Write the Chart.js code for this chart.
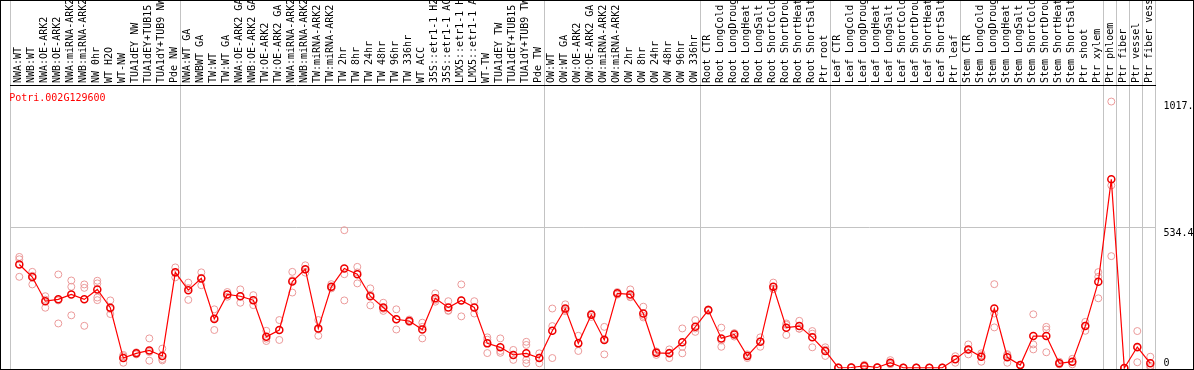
<!DOCTYPE html>
<html>
<head>
<meta charset="utf-8">
<script src="https://cdn.jsdelivr.net/npm/chart.js@4.4.1/dist/chart.umd.min.js"></script>
<style>
  html, body { margin: 0; padding: 0; background: #fff; }
  #frame { width: 1194px; height: 370px; border: 1px solid #000; box-sizing: border-box; }
  canvas { display: block; }
</style>
</head>
<body>
<div id="frame"><canvas id="chart" width="1192" height="368"></canvas></div>
<script>
// gene shown in the plot
const geneName = "Potri.002G129600";

// sample names, in plot order
const categories = [
  "NWA:WT", "NWB:WT", "NWA:OE-ARK2", "NWB:OE-ARK2", "NWA:miRNA-ARK2", "NWB:miRNA-ARK2",
  "NW 0hr", "WT H2O", "WT-NW", "TUA1dEY NW", "TUA1dEY+TUB15 NW", "TUA1dY+TUB9 NW", "Pde NW",
  "NWA:WT GA", "NWBWT GA", "TW:WT", "TW:WT GA", "NWA:OE-ARK2 GA", "NWB:OE-ARK2 GA",
  "TW:OE-ARK2", "TW:OE-ARK2 GA", "NWA:miRNA-ARK2 GA", "NWB:miRNA-ARK2 GA", "TW:miRNA-ARK2",
  "TW:miRNA-ARK2", "TW 2hr", "TW 8hr", "TW 24hr", "TW 48hr", "TW 96hr", "TW 336hr", "WT ACC",
  "35S::etr1-1 H2O", "35S::etr1-1 ACC", "LMX5::etr1-1 H2O", "LMX5::etr1-1 ACC", "WT-TW",
  "TUA1dEY TW", "TUA1dEY+TUB15 TW", "TUA1dY+TUB9 TW", "Pde TW",
  "OW:WT", "OW:WT GA", "OW:OE-ARK2", "OW:OE-ARK2 GA", "OW:miRNA-ARK2", "OW:miRNA-ARK2",
  "OW 2hr", "OW 8hr", "OW 24hr", "OW 48hr", "OW 96hr", "OW 336hr",
  "Root CTR", "Root LongCold", "Root LongDrought", "Root LongHeat", "Root LongSalt",
  "Root ShortCold", "Root ShortDrought", "Root ShortHeat", "Root ShortSalt", "Ptr root",
  "Leaf CTR", "Leaf LongCold", "Leaf LongDrought", "Leaf LongHeat", "Leaf LongSalt",
  "Leaf ShortCold", "Leaf ShortDrought", "Leaf ShortHeat", "Leaf ShortSalt", "Ptr leaf",
  "Stem CTR", "Stem LongCold", "Stem LongDrought", "Stem LongHeat", "Stem LongSalt",
  "Stem ShortCold", "Stem ShortDrought", "Stem ShortHeat", "Stem ShortSalt", "Ptr shoot", "Ptr xylem",
  "Ptr phloem", "Ptr fiber", "Ptr vessel", "Ptr fiber vessel"
];

// group boundaries (after sample n)
const groupEnds = [13, 41, 53, 63, 73, 84, 85, 86, 87];

// mean expression
const means = [
  395, 347, 255, 262, 281, 262, 300, 230, 38, 56, 67, 46, 365,
  297, 342, 187, 281, 274, 259, 119, 145, 330, 377, 151, 310, 380, 358, 274, 231, 186, 179, 147,
  266, 231, 258, 231, 94, 79, 50, 56, 38,
  142, 227, 94, 203, 107, 285, 281, 208, 58, 56, 98, 157,
  221, 113, 128, 46, 100, 310, 154, 160, 117, 65,
  1, 2, 8, 2, 20, 1, 1, 1, 1, 33,
  71, 43, 227, 41, 11, 122, 122, 18, 24, 160, 329,
  720, 0, 80, 18
];

// replicates
const rep1 = [
  424, 367, 274, 357, 334, 319, 333, 258, 50, 60, 113, 74, 384,
  326, 365, 224, 290, 300, 278, 142, 183, 367, 392, 183, 320, 526, 386, 304, 249, 224, 185, 173,
  285, 255, 319, 255, 117, 113, 69, 100, 56,
  227, 243, 123, 207, 157, 290, 300, 234, 50, 71, 151, 183,
  224, 154, 133, 52, 117, 326, 170, 180, 141, 79,
  3, 3, 12, 3, 30, 2, 1, 1, 2, 45,
  90, 56, 320, 53, 12, 205, 157, 24, 35, 176, 366,
  1017, 0, 141, 43
];
const rep2 = [
  415, 319, 230, 170, 310, 306, 323, 206, 20, 52, 28, 34, 346,
  260, 316, 145, 272, 249, 240, 103, 107, 288, 375, 123, 305, 358, 323, 239, 218, 147, 176, 113,
  253, 218, 197, 208, 57, 58, 31, 88, 18,
  160, 222, 65, 195, 52, 280, 272, 193, 62, 38, 81, 138,
  218, 81, 120, 38, 81, 302, 126, 150, 79, 46,
  0, 1, 4, 1, 15, 0, 0, 0, 0, 20,
  52, 24, 208, 20, 10, 90, 147, 14, 14, 142, 348,
  697, 0, 22, 8
];
const rep3 = [
  348, 352, 261, 258, 201, 161, 269, 225, 45, 56, 61, 29, 364,
  305, 344, 191, 280, 273, 259, 112, 145, 335, 364, 147, 304, 258, 365, 280, 226, 186, 176, 157,
  260, 220, 258, 230, 108, 65, 49, 31, 40,
  38, 217, 94, 207, 111, 284, 270, 199, 63, 59, 56, 151,
  221, 105, 132, 47, 102, 301, 165, 150, 131, 70,
  1, 2, 7, 2, 15, 1, 2, 1, 1, 34,
  71, 49, 155, 49, 12, 71, 60, 15, 23, 162, 266,
  427, 0, 77, 3
];
const rep4 = { 7: 259, 40: 18 };

// right axis
const yTicks = [0, 534.4, 1017.3];
const gridValue = 534.4;

const FONT = '"DejaVu Sans Mono", "Liberation Mono", monospace';
const X_MIN = 0.3, X_MAX = 88.4;
const Y_MIN = -3.82, Y_MAX = 1080.2;

// ticks for labels + separator lines
const sepValues = [X_MIN, ...groupEnds.map(n => n + 0.4), X_MAX];
const xTicks = categories.map((_, i) => i + 1).concat(sepValues).sort((a, b) => a - b);
const isSep = v => sepValues.includes(v);

const repPoints = [];
[rep1, rep2, rep3].forEach(r => r.forEach((v, i) => repPoints.push({ x: i + 1, y: v })));
Object.keys(rep4).forEach(k => repPoints.push({ x: Number(k), y: rep4[k] }));

const geneLabel = {
  id: 'geneLabel',
  afterDatasetsDraw(chart) {
    const { ctx, chartArea } = chart;
    ctx.save();
    ctx.font = '10px ' + FONT;
    ctx.fillStyle = '#ff0000';
    ctx.textBaseline = 'alphabetic';
    ctx.fillText(geneName, chartArea.left - 1, chartArea.top + 15.5);
    ctx.restore();
  }
};

new Chart(document.getElementById('chart'), {
  type: 'scatter',
  data: {
    datasets: [
      {
        label: 'mean',
        data: means.map((v, i) => ({ x: i + 1, y: v })),
        showLine: true,
        borderColor: '#ff0000',
        borderWidth: 1.2,
        pointRadius: 3.5,
        pointBorderColor: '#ee0000',
        pointBorderWidth: 1.5,
        pointBackgroundColor: 'rgba(0,0,0,0)',
        order: 0
      },
      {
        label: 'replicates',
        data: repPoints,
        showLine: false,
        pointRadius: 3.5,
        pointBorderColor: '#eb9a9a',
        pointBorderWidth: 1,
        pointBackgroundColor: 'rgba(0,0,0,0)',
        order: 1
      }
    ]
  },
  options: {
    responsive: false,
    animation: false,
    layout: { autoPadding: false, padding: { left: 9.2, right: 0, top: 0, bottom: 0 } },
    plugins: { legend: { display: false }, tooltip: { enabled: false } },
    scales: {
      x: {
        type: 'linear',
        position: 'top',
        min: X_MIN,
        max: X_MAX,
        afterBuildTicks: s => { s.ticks = xTicks.map(v => ({ value: v })); },
        afterFit: s => {
          s.height = 84;
          s.paddingLeft = 0; s.paddingRight = 0;
        },
        ticks: {
          autoSkip: false,
          minRotation: 90,
          maxRotation: 90,
          padding: -82,
          labelOffset: 11.5,
          color: '#000',
          font: { family: FONT, size: 10 },
          callback: v => Number.isInteger(v) ? categories[v - 1] : ''
        },
        grid: {
          drawOnChartArea: true,
          tickLength: 84,
          lineWidth: 1,
          color: c => isSep(c.tick.value) ? '#c3c3c3' : 'rgba(0,0,0,0)'
        },
        border: { display: true, color: '#000', width: 1 }
      },
      y: {
        type: 'linear',
        position: 'right',
        min: Y_MIN,
        max: Y_MAX,
        afterBuildTicks: s => { s.ticks = yTicks.map(v => ({ value: v })); },
        afterFit: s => {
          s.width = 37.5;
          s.paddingTop = 0; s.paddingBottom = 0;
        },
        ticks: {
          padding: 8,
          color: '#000',
          font: { family: FONT, size: 10, lineHeight: 1 },
          callback: v => v === 0 ? ['0', ''] : ['', String(v)]
        },
        grid: {
          drawTicks: false,
          color: c => c.tick.value === gridValue ? '#c3c3c3' : 'rgba(0,0,0,0)'
        },
        border: { display: false }
      }
    }
  },
  plugins: [geneLabel]
});
</script>
</body>
</html>
